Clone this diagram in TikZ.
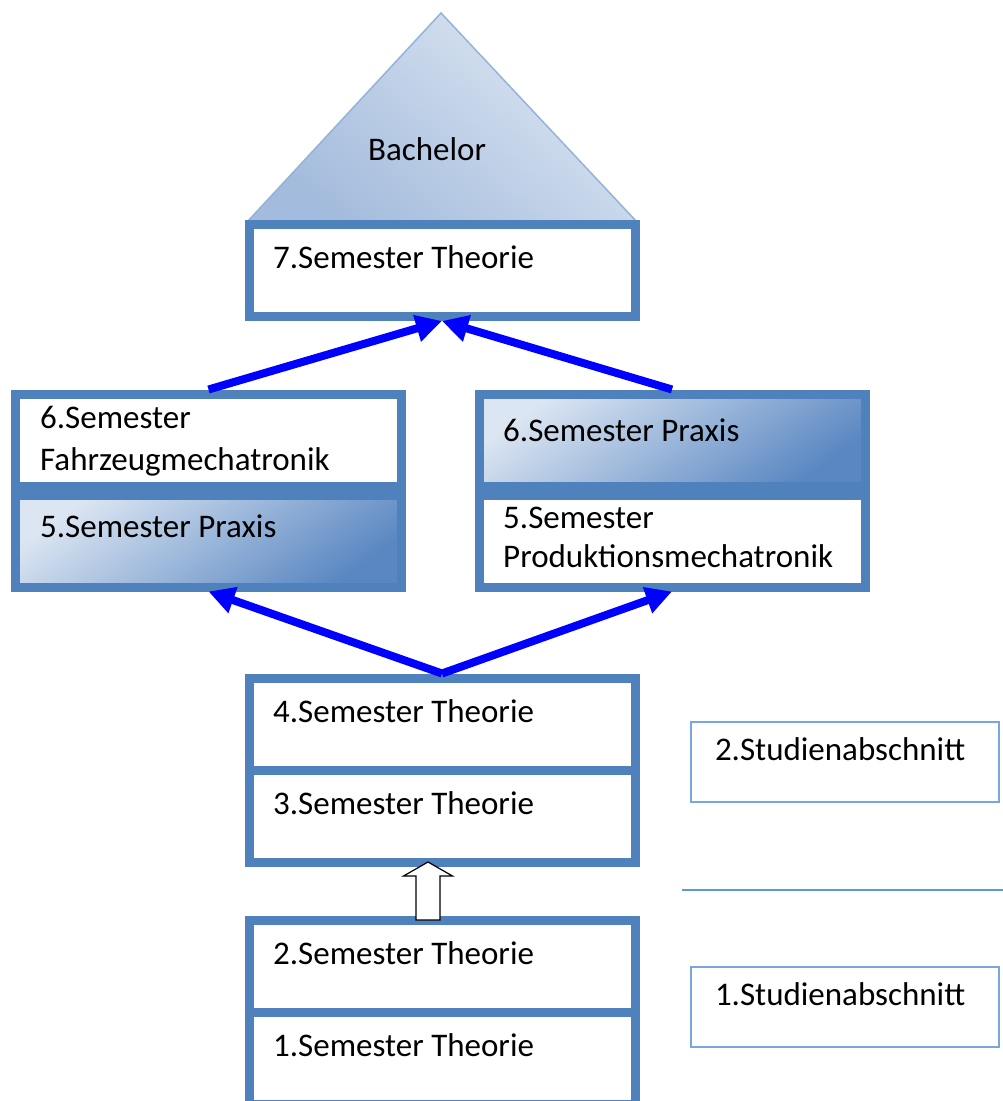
\documentclass[tikz,border=0pt]{standalone}
\usepackage{fontspec}
\setmainfont{Carlito}
\usetikzlibrary{arrows.meta}

\definecolor{framecol}{HTML}{4F81BD}
\definecolor{studcol}{HTML}{79A6DD}
\definecolor{cutcol}{HTML}{5B9BD5}
\definecolor{praxislight}{HTML}{DCE6F2}
\definecolor{praxisdark}{HTML}{5A87C2}
\definecolor{rooflight}{HTML}{DCE6F2}
\definecolor{roofdark}{HTML}{A3BBDC}
\definecolor{roofline}{HTML}{94B3D7}
\newcommand{\semfont}{\fontsize{33pt}{40pt}\selectfont}

\begin{document}
\begin{tikzpicture}[x=1pt,y=-1pt,>={Triangle[length=26pt,width=26pt]},
    semester/.style={draw=framecol,line width=9pt,fill=white,minimum width=386pt,minimum height=92pt,inner sep=0pt},
    praxis/.style={top color=praxislight,bottom color=praxisdark,shading angle=35},
    semtext/.style={anchor=base west,inner sep=0pt,align=left,font=\semfont},
    studium/.style={draw=studcol,line width=1.8pt,minimum width=308pt,minimum height=80pt,text width=260pt,inner xsep=24pt,align=left,text height=20pt,text depth=24pt,font=\semfont},
    flow/.style={->,draw=blue,line width=8pt}]
                \useasboundingbox (0,0) rectangle (1003,1101);

                % Bachelor
                \coordinate (apex) at (441,13);
                \coordinate (eaveL) at (247,222);
                \coordinate (eaveR) at (637,222);
                \draw[draw=roofline,line width=1.5pt,top color=rooflight,bottom color=roofdark,shading angle=-40] (apex)--(eaveR)--(eaveL)--cycle;
                \node[semtext] (tb) at (368,160) {Bachelor};

                \node[semester] (s7) at (442,270.5) {};
                \node[semtext] (t7) at (273,268) {7.Semester Theorie};

                % Praxis links und rechts
                \node[semester] (s6f) at (208.5,440) {};
                \node[semester,praxis] (s5p) at (208.5,541) {};
                \node[semtext] (t6f) at (40,470) {6.Semester\\[2pt]Fahrzeugmechatronik};
                \node[semtext] (t5p) at (40,537) {5.Semester Praxis};

                \node[semester,praxis] (s6p) at (672,440) {};
                \node[semester] (s5m) at (672,541) {};
                \node[semtext] (t6p) at (503,441) {6.Semester Praxis};
                \node[semtext] (t5m) at (503,567) {5.Semester\\[-1pt]Produktionsmechatronik};

                % Theorie
                \node[semester] (s4) at (442,724) {};
                \node[semester] (s3) at (442,816) {};
                \node[semester] (s2) at (442,966) {};
                \node[semester] (s1) at (442,1058) {};
                \node[semtext] (t4) at (273,722) {4.Semester Theorie};
                \node[semtext] (t3) at (273,814) {3.Semester Theorie};
                \node[semtext] (t2) at (273,964) {2.Semester Theorie};
                \node[semtext] (t1) at (273,1056) {1.Semester Theorie};

                \draw[flow] (s6f.north)--(s7.south);
                \draw[flow] (s6p.north)--(s7.south);
                \draw[flow] (s4.north)--(s5p.south);
                \draw[flow] (s4.north)--(s5m.south);

                \coordinate (up) at ([xshift=-14pt,yshift=4.5pt]s3.south);
                \draw[fill=white,line width=1.2pt] (up)--++(24.5,14)--++(-12.5,0)--++(0,44)--++(-24,0)--++(0,-44)--++(-12.5,0)--cycle;

                % Studienabschnitte
                \node[studium] (sa2) at (845,762) {2.Studienabschnitt};
                \node[studium] (sa1) at (845,1007) {1.Studienabschnitt};
                \coordinate (cutL) at (682,890);
                \coordinate (cutR) at (1003,890);
                \draw[cutcol,line width=2.5pt] (cutL)--(cutR);
            \end{tikzpicture}
\end{document}
